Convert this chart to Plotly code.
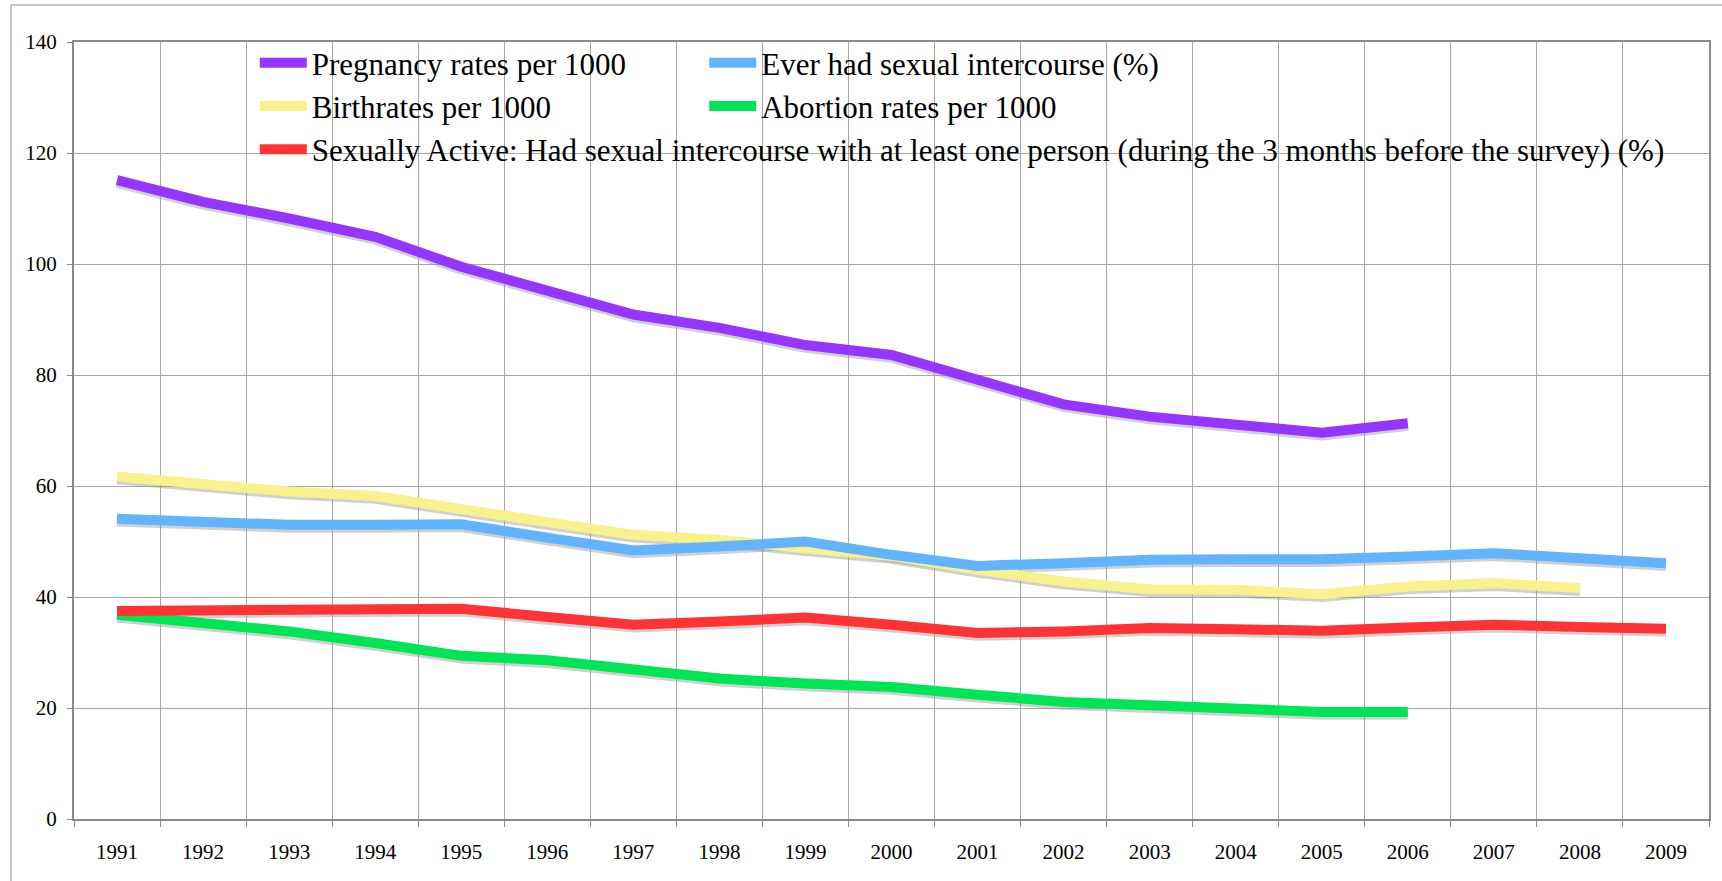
import plotly.graph_objects as go

years = [str(y) for y in range(1991, 2010)]

pregnancy = [115.1, 111.2, 108.2, 104.9, 99.5, 95.4, 90.9, 88.5, 85.4, 83.6,
             79.0, 74.7, 72.5, 71.1, 69.6, 71.3, None, None, None]
birthrates = [61.7, 60.3, 59.0, 58.2, 55.7, 53.5, 51.2, 50.3, 48.8, 47.4,
              44.9, 42.8, 41.4, 41.3, 40.5, 41.9, 42.5, 41.6, None]
ever_had = [54.1, 53.5, 53.0, 53.0, 53.1, 50.7, 48.4, 49.1, 50.0, 47.6,
            45.6, 46.1, 46.7, 46.8, 46.8, 47.3, 47.9, 47.0, 46.1]
abortion = [36.8, 35.3, 33.8, 31.7, 29.4, 28.6, 27.1, 25.3, 24.4, 23.8,
            22.4, 21.1, 20.5, 20.0, 19.3, 19.3, None, None, None]
active = [37.5, 37.5, 37.5, 37.7, 37.9, 36.4, 35.0, 35.6, 36.3, 35.0,
          33.5, 33.8, 34.4, 34.2, 33.9, 34.5, 35.0, 34.6, 34.3]

names = {
    "preg": "Pregnancy rates per 1000",
    "birth": "Birthrates per 1000",
    "ever": "Ever had sexual intercourse (%)",
    "abort": "Abortion rates per 1000",
    "active": "Sexually Active: Had sexual intercourse with at least one person (during the 3 months before the survey) (%)",
}

W, H = 1722, 881
ML, MR, MT, MB = 74, 11, 42, 62
PW, PH = W - ML - MR, H - MT - MB

def px_x(p):
    return (p - ML) / PW

def px_y(p):
    return (H - MB - p) / PH

FONT = "Liberation Serif, Times New Roman, serif"
LW = 10
SHADOW_SHIFT = 0.5

series = [
    ("preg", pregnancy, "#9436FF", "legend"),
    ("birth", birthrates, "#F8F28E", "legend"),
    ("ever", ever_had, "#62B4FF", "legend2"),
    ("abort", abortion, "#00E556", "legend2"),
    ("active", active, "#FF3336", "legend"),
]

fig = go.Figure()

# soft drop shadows under the lines
for key, vals, color, lg in series:
    fig.add_trace(go.Scatter(
        x=years, y=[None if v is None else v - SHADOW_SHIFT for v in vals],
        mode="lines", line=dict(color="rgba(150,150,150,0.45)", width=LW),
        showlegend=False, hoverinfo="skip",
    ))

for key, vals, color, lg in series:
    fig.add_trace(go.Scatter(
        x=years, y=vals, name=names[key], mode="lines",
        line=dict(color=color, width=LW), legend=lg,
    ))

legend_common = dict(
    font=dict(family=FONT, size=31, color="black"),
    bgcolor="rgba(0,0,0,0)", borderwidth=0, yanchor="top", xanchor="left",
    itemwidth=47, tracegroupgap=0,
)

fig.update_layout(
    width=W, height=H,
    margin=dict(l=ML, r=MR, t=MT, b=MB),
    paper_bgcolor="white", plot_bgcolor="white",
    font=dict(family=FONT, size=21, color="black"),
    legend=dict(x=px_x(255), y=px_y(36), **legend_common),
    legend2=dict(x=px_x(705), y=px_y(36), **legend_common),
    xaxis=dict(
        type="category", tickson="boundaries", ticks="outside", ticklen=6,
        tickcolor="#8a8a8a", showgrid=True, gridcolor="#a8a8a8", gridwidth=1,
        showline=True, linecolor="#8a8a8a", linewidth=2, mirror=True,
        ticklabelstandoff=13, tickfont=dict(family=FONT, size=21),
        range=[-0.5, 18.5],
    ),
    yaxis=dict(
        range=[0, 140], dtick=20, ticks="outside", ticklen=5,
        tickcolor="#8a8a8a", showgrid=True, gridcolor="#a8a8a8", gridwidth=1,
        showline=True, linecolor="#8a8a8a", linewidth=2, mirror=True,
        zeroline=False, ticklabelstandoff=6, tickfont=dict(family=FONT, size=21),
    ),
    shapes=[
        dict(
            type="rect", xref="paper", yref="paper",
            x0=px_x(11), x1=px_x(W + 20), y0=px_y(H + 20), y1=px_y(5),
            line=dict(color="#b4b4b4", width=1.5), fillcolor="rgba(0,0,0,0)",
            layer="below",
        ),
        # white backing box of the legend, hiding the gridlines behind it
        dict(
            type="rect", xref="paper", yref="paper",
            x0=px_x(243), x1=px_x(1688), y0=px_y(190), y1=px_y(47),
            line=dict(width=0), fillcolor="white", layer="between",
        ),
    ],
)

fig.write_html("out.html", config={"displayModeBar": False},
               post_script="document.body.style.margin='0';")
